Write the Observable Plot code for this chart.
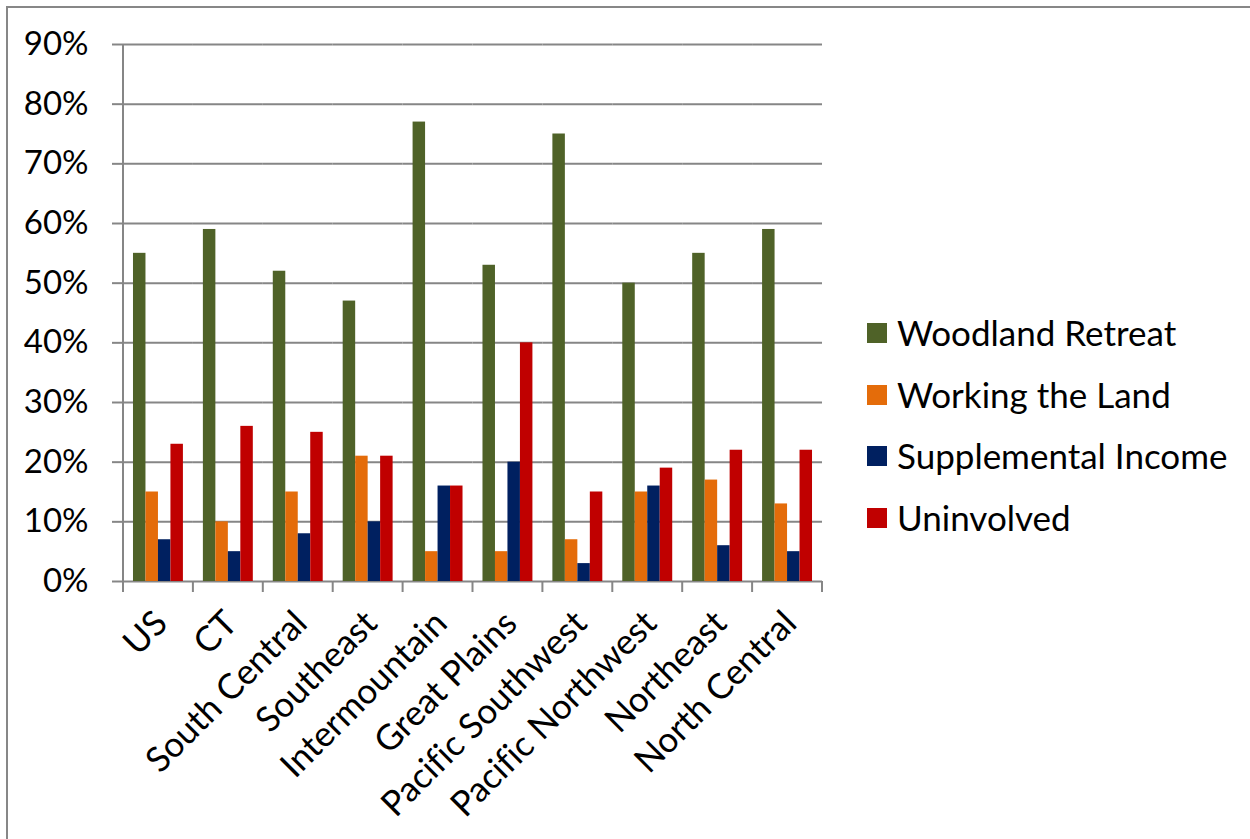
<!DOCTYPE html>
<html><head><meta charset="utf-8">
<script src="https://cdn.jsdelivr.net/npm/d3@7"></script>
<script src="https://cdn.jsdelivr.net/npm/@observablehq/plot@0.6"></script>
<style>
body{margin:0;background:#fff;font-family:Lato,sans-serif;font-variant-ligatures:none;}
svg text{font-variant-ligatures:none;}
#wrap{position:relative;width:1250px;height:839px;overflow:hidden;background:#fff;}
#border{position:absolute;left:6px;top:6px;width:1400px;height:1000px;border:2px solid #878787;}
#chart{position:absolute;left:0;top:0;}
#legend{position:absolute;left:867px;top:302px;font-family:Lato,sans-serif;font-size:35px;color:#000;}
.row{display:flex;align-items:center;height:61.7px;line-height:61.7px;white-space:nowrap;}
.sw{width:20px;height:20px;margin-right:10px;flex:none;}
</style></head><body>
<div id="wrap"><div id="border"></div><div id="chart"></div><div id="legend"></div></div>
<script>
const regions = ["US","CT","South Central","Southeast","Intermountain","Great Plains","Pacific Southwest","Pacific Northwest","Northeast","North Central"];
const series = ["Woodland Retreat","Working the Land","Supplemental Income","Uninvolved"];
const woodlandRetreat   = [55,59,52,47,77,53,75,50,55,59];
const workingTheLand    = [15,10,15,21, 5, 5, 7,15,17,13];
const supplementalIncome= [ 7, 5, 8,10,16,20, 3,16, 6, 5];
const uninvolved        = [23,26,25,21,16,40,15,19,22,22];
const colors = ["#4F6228","#E46C0A","#002060","#C00000"];
const yTicks = [0,0.1,0.2,0.3,0.4,0.5,0.6,0.7,0.8,0.9];

const seriesValues = [woodlandRetreat, workingTheLand, supplementalIncome, uninvolved];
const rows = regions.flatMap((r, i) => series.map((s, j) => ({region: r, series: s, value: seriesValues[j][i] / 100})));

const grid = "#868686";
const chart = Plot.plot({
  width: 850, height: 839,
  marginLeft: 123, marginRight: 28, marginTop: 44, marginBottom: 258,
  style: {fontFamily: "Lato, sans-serif", fontSize: "33px", color: "#000", background: "transparent", overflow: "visible"},
  fx: {domain: regions, padding: 0, round: false, label: null},
  x: {domain: series, paddingInner: 0, paddingOuter: 0.8, round: false, axis: null},
  y: {domain: [0, 0.9], label: null, axis: null},
  color: {domain: series, range: colors},
  marks: [
    Plot.ruleY(yTicks, {stroke: grid, strokeWidth: 2, strokeOpacity: 1}),
    Plot.barY(rows, {fx: "region", x: "series", y: "value", fill: "series"}),
    Plot.axisY({ticks: yTicks, tickFormat: d3.format(".0%"), tickSize: 11, tickPadding: 24, stroke: grid, strokeWidth: 2, strokeOpacity: 1, fill: "#000", fontSize: 33, label: null}),
    Plot.axisFx({anchor: "bottom", tickRotate: -45, tickSize: 0, tickPadding: 36, dx: 3, fill: "#000", fontSize: 35, label: null})
  ]
});
document.getElementById("chart").appendChild(chart);

// axis line and category boundary ticks from the library's scales
const fx = chart.scale("fx"), y = chart.scale("y");
const y0 = y.apply(0), yTop = y.apply(0.9);
const bounds = regions.map(r => fx.apply(r)).concat([fx.apply(regions[regions.length - 1]) + fx.bandwidth]);
const g = d3.select(chart).append("g").attr("stroke", grid).attr("stroke-width", 2);
g.append("line").attr("x1", bounds[0]).attr("x2", bounds[0]).attr("y1", yTop).attr("y2", y0 + 11);
g.selectAll(".bt").data(bounds).join("line").attr("x1", d => d).attr("x2", d => d).attr("y1", y0).attr("y2", y0 + 11);

// legend
const legend = d3.select("#legend");
series.forEach((s, i) => {
  const row = legend.append("div").attr("class", "row");
  row.append("div").attr("class", "sw").style("background", colors[i]);
  row.append("span").text(s);
});
</script>
</body></html>
